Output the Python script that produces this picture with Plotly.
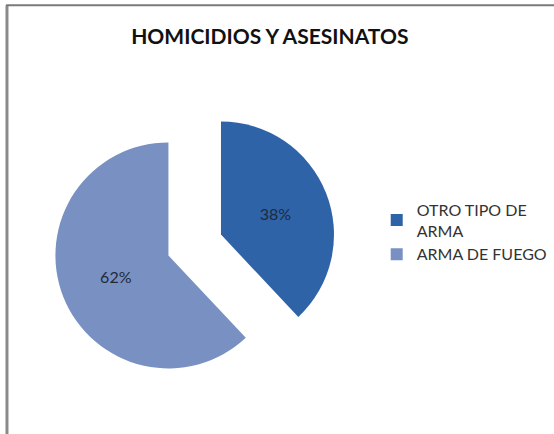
import plotly.graph_objects as go

# chart data
labels = ["OTRO TIPO DE<br>ARMA", "ARMA DE FUEGO"]
values = [38, 62]
colors = ["#2F63A8", "#7891C2"]

title_text = "HOMICIDIOS Y ASESINATOS"

fig = go.Figure()
fig.add_trace(go.Pie(
    labels=labels,
    values=values,
    sort=False,
    direction="clockwise",
    rotation=0,
    pull=[0.25, 0.25],
    marker=dict(colors=colors, line=dict(width=0)),
    texttemplate="%{percent:.0%}",
    textposition="inside",
    insidetextorientation="horizontal",
    textfont=dict(family="Lato, Open Sans, sans-serif", size=16, color="#1e2a3a"),
    domain=dict(x=[0.0964, 0.6065], y=[0.110, 0.761]),
    hoverinfo="label+percent",
))

fig.update_layout(
    width=554,
    height=434,
    margin=dict(l=0, r=0, t=0, b=0),
    paper_bgcolor="white",
    plot_bgcolor="white",
    title=dict(
        text="<b>" + title_text + "</b>",
        x=0.487, xanchor="center",
        y=0.915, yanchor="middle",
        font=dict(family="Lato, Open Sans, sans-serif", size=21, color="#111111"),
    ),
    legend=dict(
        x=0.68, xanchor="left",
        y=0.465, yanchor="middle",
        font=dict(family="Lato, Open Sans, sans-serif", size=16, color="#333333"),
        itemwidth=30,
    ),
    showlegend=True,
    shapes=[
        # chart frame (left and top edges)
        dict(type="line", xref="paper", yref="paper", x0=0.0126, x1=0.0126, y0=0, y1=0.988,
             line=dict(color="#8a8a8a", width=3)),
        dict(type="line", xref="paper", yref="paper", x0=0.011, x1=1, y0=0.988, y1=0.988,
             line=dict(color="#7a7a7a", width=2)),
    ],
)

fig.write_html(
    "out.html",
    config={"displayModeBar": False},
    post_script="document.body.style.margin='0';",
)
